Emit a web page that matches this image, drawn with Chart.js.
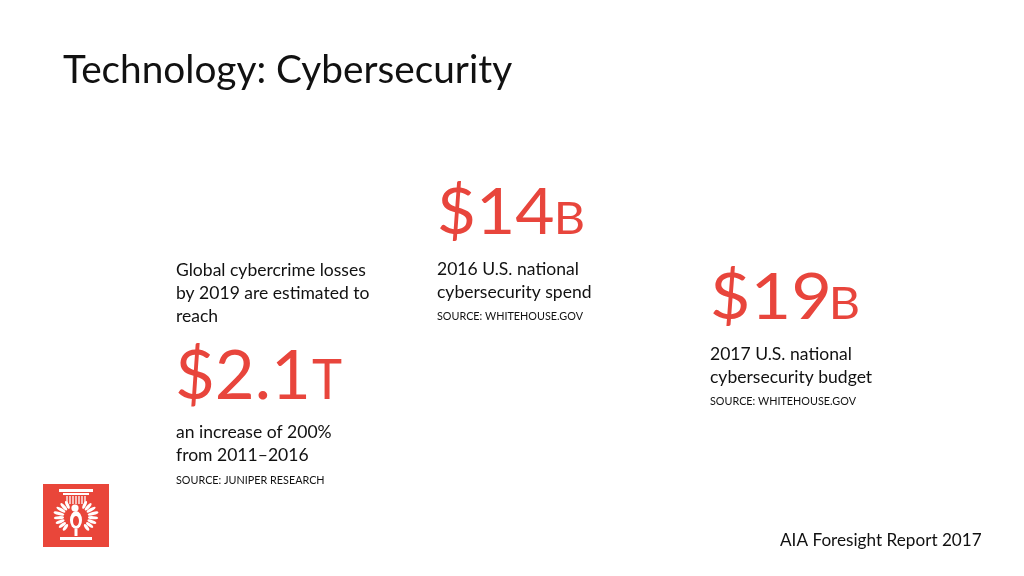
<!DOCTYPE html>
<html>
<head>
<meta charset="utf-8">
<title>Technology: Cybersecurity</title>
<script src="https://cdn.jsdelivr.net/npm/chart.js@4.4.1/dist/chart.umd.min.js"></script>
<style>
  html, body { margin: 0; padding: 0; background: #fff; }
  #slide { display: block; }
</style>
</head>
<body>
<canvas id="slide" width="1024" height="576"></canvas>
<script>
/*===================================================================
   Data
==================================================================*/
const title = 'Technology: Cybersecurity'
const footer = 'AIA Foresight Report 2017'

const statValues = ['2.1', '14', '19']
const statUnits = ['T', 'B', 'B']
const introLines = [
  ['Global cybercrime losses', 'by 2019 are estimated to', 'reach'],
  [],
  []
]
const noteLines = [
  ['an increase of 200%', 'from 2011–2016'],
  ['2016 U.S. national', 'cybersecurity spend'],
  ['2017 U.S. national', 'cybersecurity budget']
]
const sources = ['SOURCE: JUNIPER RESEARCH', 'SOURCE: WHITEHOUSE.GOV', 'SOURCE: WHITEHOUSE.GOV']

/*===================================================================
   Layout / style
==================================================================*/
const RED = '#e8453c'
const INK = '#111'
const FONT = 'Lato, "Open Sans", sans-serif'
const LINE = 23
const BODY = 16.8
const BODY_SX = 1.045 // Lato runs a bit narrower than the slide font

// where each stat block sits on the slide (ink boxes of the big numbers)
const blocks = [
  { x: 176, introBase: 276, numBase: 399, numSize: 67, numL: 178, numR: 307, unitSize: 56, unitL: 312, unitR: 342, noteBase: 438, srcBase: 484 },
  { x: 437, introBase: 0,   numBase: 234, numSize: 63, numL: 440, numR: 553, unitSize: 44.6, unitL: 558, unitR: 583, noteBase: 275, srcBase: 320 },
  { x: 710, introBase: 0,   numBase: 319, numSize: 63, numL: 713, numR: 828, unitSize: 44.6, unitL: 833, unitR: 858, noteBase: 360, srcBase: 405 }
]

// plain text with an optional horizontal squeeze/stretch
const text = (ctx, str, x, y, size, color, sx = 1) => {
  ctx.font = `${size}px ${FONT}`
  ctx.fillStyle = color
  ctx.save()
  ctx.translate(x, y)
  ctx.scale(sx, 1)
  ctx.fillText(str, 0, 0)
  ctx.restore()
}

// text fitted so its ink runs from left to right
const fitText = (ctx, str, left, right, y, size, color) => {
  ctx.font = `${size}px ${FONT}`
  ctx.fillStyle = color
  const m = ctx.measureText(str)
  const ink = m.actualBoundingBoxLeft + m.actualBoundingBoxRight
  const sx = (right - left) / ink
  ctx.save()
  ctx.translate(left, y)
  ctx.scale(sx, 1)
  ctx.fillText(str, m.actualBoundingBoxLeft, 0)
  ctx.restore()
}

/*===================================================================
   AIA logo (simplified)
==================================================================*/
const drawLogo = (ctx) => {
  const x = 43, y = 484, w = 66, h = 63
  const cx = x + 33
  ctx.fillStyle = '#e9463a'
  ctx.fillRect(x, y, w, h)
  ctx.fillStyle = '#fff'
  ctx.strokeStyle = '#fff'
  // capital + base
  ctx.fillRect(cx - 17, y + 5, 34, 3)
  ctx.fillRect(cx - 13, y + 9, 26, 2)
  ctx.fillRect(cx - 16, y + 53, 32, 3)
  // column flutes
  ctx.lineWidth = 1.3
  for (let i = -3; i <= 3; i++) {
    ctx.beginPath()
    ctx.moveTo(cx + i * 3, y + 12)
    ctx.lineTo(cx + i * 3, y + 20)
    ctx.stroke()
  }
  // wings: feathers fanning out from the body
  const pivotY = y + 33
  for (const side of [-1, 1]) {
    for (let k = 0; k < 8; k++) {
      const th = (25 + k * 17) * Math.PI / 180
      const len = 11 - Math.abs(k - 3) * 0.8
      const dx = side * Math.sin(th), dy = -Math.cos(th)
      const r0 = 9 + len * 0.5
      ctx.save()
      ctx.translate(cx + side * 3 + dx * r0, pivotY + dy * r0)
      ctx.rotate(side * th)
      ctx.beginPath()
      ctx.ellipse(0, 0, 1.6, len * 0.5, 0, 0, Math.PI * 2)
      ctx.fill()
      ctx.restore()
    }
  }
  // body and head
  ctx.beginPath()
  ctx.ellipse(cx, y + 36, 6, 9, 0, 0, Math.PI * 2)
  ctx.fill()
  ctx.beginPath()
  ctx.arc(cx - 1, y + 24, 3.6, 0, Math.PI * 2)
  ctx.fill()
  ctx.fillStyle = '#e9463a'
  ctx.beginPath()
  ctx.ellipse(cx, y + 37, 3, 5, 0, 0, Math.PI * 2)
  ctx.fill()
  ctx.fillStyle = '#fff'
  ctx.fillRect(cx - 1.5, y + 45, 3, 7)
}

/*===================================================================
   Plugin that paints the slide
==================================================================*/
const slidePlugin = {
  id: 'slide',
  afterDraw: (chart) => {
    const ctx = chart.ctx
    ctx.save()
    ctx.textBaseline = 'alphabetic'
    ctx.textAlign = 'left'

    fitText(ctx, title, 63, 512, 83, 39, INK)

    blocks.forEach((b, i) => {
      introLines[i].forEach((ln, j) => text(ctx, ln, b.x, b.introBase + j * LINE, BODY, INK, BODY_SX))
      fitText(ctx, '$' + statValues[i], b.numL, b.numR, b.numBase, b.numSize, RED)
      fitText(ctx, statUnits[i], b.unitL, b.unitR, b.numBase, b.unitSize, RED)
      noteLines[i].forEach((ln, j) => text(ctx, ln, b.x, b.noteBase + j * LINE, BODY, INK, BODY_SX))
      text(ctx, sources[i], b.x, b.srcBase, 10.8, INK)
    })

    fitText(ctx, footer, 780, 982, 546, BODY, INK)
    drawLogo(ctx)
    ctx.restore()
  }
}

new Chart(document.getElementById('slide'), {
  type: 'scatter',
  data: { datasets: [{ data: [] }] },
  options: {
    responsive: false,
    animation: false,
    events: [],
    layout: { padding: 0 },
    scales: { x: { display: false }, y: { display: false } },
    plugins: { legend: { display: false }, tooltip: { enabled: false } }
  },
  plugins: [slidePlugin]
})
</script>
</body>
</html>
